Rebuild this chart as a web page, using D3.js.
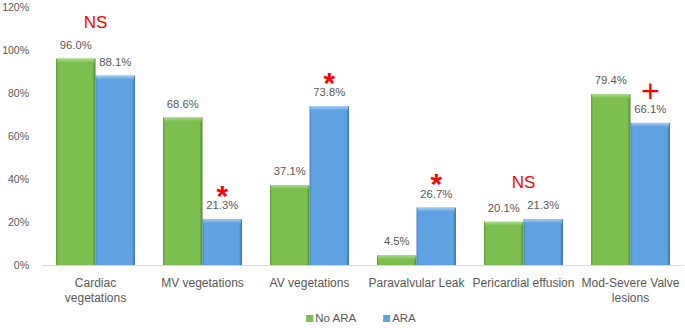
<!DOCTYPE html>
<html>
<head>
<meta charset="utf-8">
<script src="https://cdn.jsdelivr.net/npm/d3@7"></script>
<style>
  body { margin: 0; background: #fff; }
  text { font-family: "Liberation Sans", Arial, sans-serif; }
</style>
</head>
<body>
<div id="chart"></div>
<script>
const categories = ["Cardiac vegetations", "MV vegetations", "AV vegetations", "Paravalvular Leak", "Pericardial effusion", "Mod-Severe Valve lesions"];
const categoryLines = [["Cardiac", "vegetations"], ["MV vegetations"], ["AV vegetations"], ["Paravalvular Leak"], ["Pericardial effusion"], ["Mod-Severe Valve", "lesions"]];
const seriesNames = ["No ARA", "ARA"];
const noAra = [96.0, 68.6, 37.1, 4.5, 20.1, 79.4];
const ara = [88.1, 21.3, 73.8, 26.7, 21.3, 66.1];
const yTicks = [0, 20, 40, 60, 80, 100, 120];
const marks = ["NS", "*", "*", "*", "NS", "+"];
const markOver = ["both", "ARA", "ARA", "ARA", "both", "ARA"];

const width = 685, height = 328;
const plotLeft = 42, plotRight = 684, plotTop = 7, plotBottom = 265;

const svg = d3.select("#chart").append("svg")
  .attr("width", width)
  .attr("height", height);

const defs = svg.append("defs");
const palette = {
  "No ARA": { edgeL: "#5f9c38", mid: "#7cbe4f", edgeR: "#4d8a2a", top: "#a9d98a" },
  "ARA": { edgeL: "#4a86c4", mid: "#5fa2e2", edgeR: "#3c74b0", top: "#a6cff3" }
};
seriesNames.forEach((s, i) => {
  const c = palette[s];
  const g = defs.append("linearGradient").attr("id", "side" + i)
    .attr("x1", 0).attr("x2", 1).attr("y1", 0).attr("y2", 0);
  g.append("stop").attr("offset", "0%").attr("stop-color", c.edgeL);
  g.append("stop").attr("offset", "6%").attr("stop-color", c.mid);
  g.append("stop").attr("offset", "92%").attr("stop-color", c.mid);
  g.append("stop").attr("offset", "100%").attr("stop-color", c.edgeR);
  const t = defs.append("linearGradient").attr("id", "top" + i)
    .attr("x1", 0).attr("x2", 0).attr("y1", 0).attr("y2", 1);
  t.append("stop").attr("offset", "0%").attr("stop-color", c.top);
  t.append("stop").attr("offset", "100%").attr("stop-color", c.mid);
});

const x0 = d3.scaleBand()
  .domain(categories)
  .range([plotLeft, plotRight])
  .paddingInner(0.262)
  .paddingOuter(0.131);

const x1 = d3.scaleBand()
  .domain(seriesNames)
  .range([0, x0.bandwidth()]);

const y = d3.scaleLinear()
  .domain([0, 120])
  .range([plotBottom, plotTop]);

const data = categories.map((c, i) => ({
  cat: c,
  lines: categoryLines[i],
  vals: [{ key: "No ARA", v: noAra[i] }, { key: "ARA", v: ara[i] }],
  mark: marks[i],
  over: markOver[i]
}));

// Eje Y
const yAxis = svg.append("g")
  .attr("transform", `translate(${plotLeft},0)`)
  .call(d3.axisLeft(y).tickValues(yTicks).tickFormat(d => d + "%").tickSize(0).tickPadding(13));
yAxis.select(".domain").remove();
yAxis.selectAll("text")
  .attr("fill", "#595959")
  .style("font-size", "10.5px")
  .style("font-family", '"Liberation Sans", Arial, sans-serif');

// Eje X
const xAxis = svg.append("g")
  .attr("transform", `translate(0,${plotBottom})`)
  .call(d3.axisBottom(x0).tickSize(0).tickFormat(""));
xAxis.select(".domain")
  .attr("stroke", "#d9d9d9")
  .attr("d", `M${plotLeft},0.5H${plotRight}`);

xAxis.selectAll(".tick").each(function (d, i) {
  const t = d3.select(this).append("text")
    .attr("fill", "#595959")
    .attr("text-anchor", "middle")
    .style("font-size", "12px")
    .style("font-family", '"Liberation Sans", Arial, sans-serif');
  categoryLines[i].forEach((line, j) => {
    t.append("tspan").attr("x", 0).attr("y", 22 + j * 14.5).text(line);
  });
});

// Barras
const groups = svg.selectAll("g.group")
  .data(data)
  .enter()
  .append("g")
  .attr("class", "group")
  .attr("transform", d => `translate(${x0(d.cat)},0)`);

const bars = groups.selectAll("g.bar")
  .data(d => d.vals)
  .enter()
  .append("g")
  .attr("class", "bar");

bars.append("rect")
  .attr("x", d => x1(d.key))
  .attr("width", x1.bandwidth())
  .attr("y", d => y(d.v))
  .attr("height", d => y(0) - y(d.v))
  .attr("fill", d => `url(#side${seriesNames.indexOf(d.key)})`);

bars.append("rect")
  .attr("x", d => x1(d.key) + 1)
  .attr("width", x1.bandwidth() - 2)
  .attr("y", d => y(d.v))
  .attr("height", d => Math.min(4, y(0) - y(d.v)))
  .attr("fill", d => `url(#top${seriesNames.indexOf(d.key)})`);

bars.append("text")
  .attr("x", d => x1(d.key) + x1.bandwidth() / 2)
  .attr("y", d => y(d.v) - 10)
  .attr("text-anchor", "middle")
  .attr("fill", "#595959")
  .style("font-size", "11.3px")
  .text(d => d.v.toFixed(1) + "%");

// Anotaciones
const markStyle = {
  "NS": { size: 17, weight: "normal", gap: 37, shift: 0.36 },
  "*": { size: 30, weight: "bold", gap: 30.5, shift: 0.56 },
  "+": { size: 32, weight: "normal", gap: 32, shift: 0.36 }
};
groups.append("text")
  .attr("text-anchor", "middle")
  .attr("fill", "#ff0000")
  .attr("x", d => d.over === "both" ? x0.bandwidth() / 2 : x1("ARA") + x1.bandwidth() / 2)
  .attr("y", d => {
    const s = markStyle[d.mark];
    const v = d.over === "both" ? d3.max(d.vals, e => e.v) : d.vals[1].v;
    return y(v) - s.gap + s.shift * s.size;
  })
  .style("font-size", d => markStyle[d.mark].size + "px")
  .style("font-weight", d => markStyle[d.mark].weight)
  .text(d => d.mark);

// Leyenda
const legend = svg.append("g");
let lx = 0;
seriesNames.forEach((s, i) => {
  const item = legend.append("g");
  item.append("rect")
    .attr("x", 0).attr("y", -7)
    .attr("width", 7).attr("height", 7)
    .attr("fill", `url(#side${i})`);
  const tx = item.append("text")
    .attr("x", 9).attr("y", 0)
    .attr("fill", "#595959")
    .style("font-size", "11.5px")
    .text(s);
  const w = 9 + tx.node().getComputedTextLength();
  item.attr("transform", `translate(${lx},0)`);
  lx += w + 27;
});
const legendWidth = lx - 27;
legend.attr("transform", `translate(${(plotLeft + plotRight) / 2 - legendWidth / 2 - 2},322)`);
</script>
</body>
</html>
